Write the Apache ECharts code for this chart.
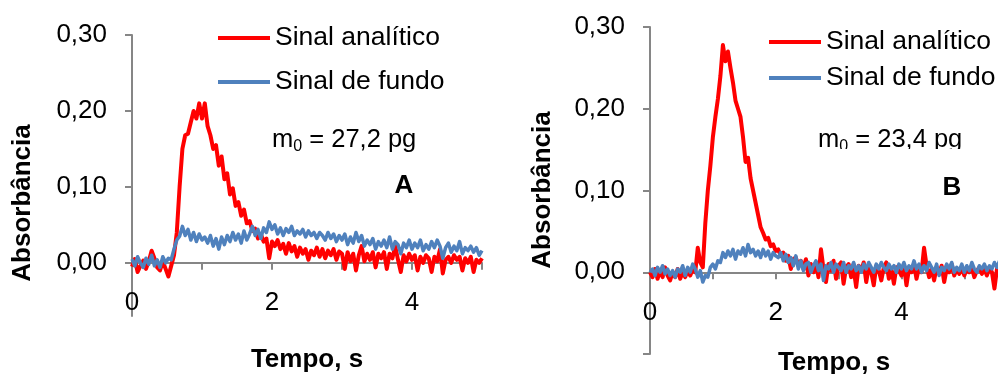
<!DOCTYPE html>
<html>
<head>
<meta charset="utf-8">
<script src="https://cdn.jsdelivr.net/npm/echarts@6/dist/echarts.min.js"></script>
<style>
html,body{margin:0;padding:0;background:#fff;}
#c{width:998px;height:374px;}
</style>
</head>
<body>
<div id="c"></div>
<script>
// ---- data (sampled every 0.04 s) ----
const sampleStep = 0.04;
const seriesNames = ['Sinal analítico', 'Sinal de fundo'];
const xTickLabels = [0, 2, 4];
const yTickValues = [0, 0.1, 0.2, 0.3];

const redA = [-0.005,0.005,-0.012,-0.004,0.003,-0.008,0.002,0.016,0.006,-0.006,
-0.010,0.002,-0.008,-0.018,-0.004,0.010,0.04,0.10,0.15,0.168,
0.17,0.185,0.20,0.19,0.21,0.19,0.21,0.18,0.168,0.15,
0.155,0.128,0.14,0.11,0.118,0.09,0.098,0.075,0.08,0.062,
0.07,0.052,0.055,0.042,0.045,0.032,0.038,0.028,0.032,0.006,
0.028,0.022,0.03,0.018,0.025,0.012,0.026,0.015,0.022,0.008,
0.02,0.012,0.018,0.004,0.016,0.01,0.02,0.008,0.018,0.006,
0.016,0.01,0.018,0.004,0.015,0.012,-0.008,0.014,0.002,0.012,
-0.01,0.01,0.022,0.002,0.012,0.004,0.014,-0.006,0.012,0.006,
0.014,-0.008,0.012,0.006,0.022,0.004,-0.012,0.01,0.002,0.012,
0.004,0.01,-0.01,0.008,0.0,0.01,0.006,-0.012,0.008,0.002,
0.018,-0.014,0.004,0.008,0.0,0.01,0.004,0.008,-0.01,0.006,
0.0,0.008,-0.012,0.004,0.0,0.006];

const blueA = [0.005,-0.004,0.008,0.0,-0.006,0.006,-0.002,0.01,-0.004,0.004,
-0.006,0.008,0.0,0.006,0.004,0.018,0.03,0.035,0.048,0.036,
0.044,0.03,0.04,0.028,0.038,0.03,0.034,0.026,0.036,0.022,
0.032,0.018,0.034,0.024,0.036,0.028,0.04,0.03,0.038,0.026,
0.042,0.03,0.038,0.048,0.036,0.044,0.032,0.046,0.04,0.054,
0.044,0.05,0.038,0.046,0.036,0.045,0.04,0.048,0.036,0.042,
0.038,0.044,0.034,0.042,0.036,0.04,0.032,0.04,0.036,0.03,
0.04,0.032,0.038,0.028,0.036,0.03,0.038,0.024,0.034,0.026,
0.04,0.028,0.036,0.022,0.03,0.024,0.032,0.018,0.028,0.022,
0.03,0.02,0.034,0.018,0.028,0.024,0.012,0.026,0.02,0.03,
0.018,0.026,0.02,0.03,0.016,0.024,0.018,0.028,0.02,0.03,
0.022,0.006,0.02,0.026,0.014,0.022,0.016,0.028,0.012,0.02,
0.016,0.022,0.014,0.02,0.01,0.016];

const redB = [0.0,-0.006,0.004,-0.008,0.002,-0.006,0.006,-0.004,-0.01,0.0,
-0.006,0.004,-0.008,0.0,-0.006,0.002,-0.004,0.004,0.0,0.03,
0.012,0.006,0.06,0.1,0.13,0.165,0.19,0.212,0.24,0.278,
0.258,0.27,0.25,0.232,0.21,0.2,0.19,0.165,0.135,0.14,
0.115,0.1,0.085,0.07,0.055,0.048,0.04,0.042,0.032,0.034,
0.026,0.028,0.02,0.024,0.014,0.02,0.004,0.016,0.018,0.008,
0.014,0.004,0.016,-0.004,0.01,0.0,0.012,-0.006,0.028,0.004,
-0.012,0.01,0.002,0.014,-0.008,0.008,0.012,-0.014,0.006,0.01,
-0.006,0.004,-0.018,0.008,0.002,0.012,-0.012,0.006,0.0,-0.016,
0.008,0.002,-0.01,0.006,0.012,-0.008,0.004,-0.014,0.006,0.002,
-0.004,0.008,-0.016,0.004,0.0,0.01,-0.008,0.006,0.0,0.03,
0.008,-0.006,0.004,-0.01,0.006,-0.002,0.008,-0.012,0.004,0.0,
0.01,-0.004,0.004,-0.002,0.006,-0.004,0.004,0.0,0.006,-0.006,
0.002,0.006,-0.002,0.004,-0.004,0.006,0.0,-0.02,0.004,0.008];

const blueB = [0.0,0.004,-0.004,0.006,0.0,0.008,-0.002,0.004,-0.004,0.002,
-0.006,0.004,0.0,0.008,-0.004,0.006,0.0,0.01,0.004,-0.006,
0.002,-0.012,-0.004,-0.006,0.006,0.01,0.004,0.014,0.012,0.024,
0.018,0.026,0.02,0.028,0.016,0.026,0.022,0.03,0.02,0.034,
0.024,0.028,0.02,0.026,0.018,0.028,0.02,0.026,0.016,0.024,
0.02,0.018,0.024,0.014,0.022,0.012,0.018,0.008,0.02,0.004,
0.014,0.002,0.01,0.012,0.0,0.008,0.014,0.002,0.01,-0.01,
0.008,0.004,0.012,0.0,0.01,0.006,0.002,0.012,0.0,0.008,
0.004,0.012,0.002,0.008,0.0,0.01,0.004,0.012,0.006,0.0,
0.01,0.004,0.012,0.006,0.002,0.01,0.004,0.008,0.0,0.01,
0.004,0.012,0.002,0.008,0.004,0.014,0.004,0.01,0.0,0.008,
0.002,0.012,0.006,0.0,0.01,-0.004,0.006,0.002,0.01,0.004,
0.012,0.0,0.006,0.002,0.01,0.0,0.008,0.002,0.012,0.004,
0.0,0.008,0.004,0.01,0.002,0.008,0.004,0.012,0.006,0.014];

// ---- helpers ----
function pairs(arr){ return arr.map((v,i)=>[+(i*sampleStep).toFixed(2), v]); }
const FONT = 'Arial, "Liberation Sans", sans-serif';
const AX = '#868686';
const RED = '#FF0000', BLUE = '#4F81BD';
const fmtY = v => v.toFixed(2).replace('.', ',');

// axis line + ticks on the zero line
function xLineAxis(gi, max){
  return {
    type:'value', gridIndex:gi, min:0, max:max, interval:1, position:'bottom',
    axisLine:{show:true, onZero:true, lineStyle:{color:AX, width:2}},
    axisTick:{show:true, length:7, lineStyle:{color:AX, width:2}, customValues:[0,1,2,3,4,5]},
    axisLabel:{show:false},
    splitLine:{show:false}
  };
}
// labels only, placed from the bottom of the plot
function xLabelAxis(gi, max, margin){
  return {
    type:'value', gridIndex:gi, min:0, max:max, interval:1, position:'bottom',
    axisLine:{show:false, onZero:false},
    axisTick:{show:false},
    axisLabel:{customValues:xTickLabels, inside:true, margin:margin, color:'#000', fontSize:26, fontFamily:FONT,
      verticalAlign:'bottom', lineHeight:26},
    splitLine:{show:false}
  };
}
function yAxisCfg(gi, min, tickVals){
  return {
    type:'value', gridIndex:gi, min:min, max:0.3,
    axisLine:{show:true, lineStyle:{color:AX, width:2}},
    axisTick:{show:true, length:7, lineStyle:{color:AX, width:2}, customValues:tickVals},
    axisLabel:{customValues:yTickValues, formatter:fmtY, margin:25, color:'#000', fontSize:26, fontFamily:FONT},
    splitLine:{show:false}
  };
}
function line(name, data, xi, yi, color, w){
  return {type:'line', name:name, xAxisIndex:xi, yAxisIndex:yi, data:pairs(data),
    showSymbol:false, symbol:'none', smooth:false, silent:true, animation:false,
    lineStyle:{color:color, width:w, join:'round'}, itemStyle:{color:color}};
}
function legendCfg(left, top, gap){
  return {data:seriesNames, orient:'vertical', left:left, top:top, itemGap:gap,
    icon:'rect', itemWidth:52, itemHeight:4, padding:0, selectedMode:false,
    textStyle:{fontSize:26.5, fontFamily:FONT, color:'#000', lineHeight:26}};
}
function txt(x, y, text, size, bold, rot){
  return {type:'text', x:x, y:y, rotation:rot||0, z:10,
    style:{text:text, fontSize:size, fontWeight:bold?'bold':'normal', fontFamily:FONT,
      fill:'#000', align:'center', verticalAlign:'middle'}};
}
function mText(x, y, rest){
  return {type:'text', x:x, y:y, z:10,
    style:{text:'{a|m}{b|0}{a| = '+rest+'}', fill:'#000', align:'left', verticalAlign:'middle',
      rich:{a:{fontSize:25.5, fontFamily:FONT, lineHeight:30, fill:'#000'},
            b:{fontSize:16, fontFamily:FONT, lineHeight:16, verticalAlign:'bottom', fill:'#000'}}}};
}

const chart = echarts.init(document.getElementById('c'), null, {renderer:'canvas'});
chart.setOption({
  animation:false,
  backgroundColor:'#fff',
  grid:[
    {left:132, top:35, width:350, height:281, containLabel:false, outerBoundsMode:'none'},
    {left:650, top:27, width:352, height:327, containLabel:false, outerBoundsMode:'none'}
  ],
  xAxis:[xLineAxis(0,5), xLabelAxis(0,5,0), xLineAxis(1,5.6), xLabelAxis(1,5.6,28)],
  yAxis:[yAxisCfg(0,-0.07,[0,0.1,0.2,0.3]), yAxisCfg(1,-0.1,[-0.1,0,0.1,0.2,0.3])],
  legend:[legendCfg(218,24.5,17), legendCfg(769,28.5,9)],
  series:[
    line(seriesNames[0], redA, 0, 0, RED, 4),
    line(seriesNames[1], blueA, 0, 0, BLUE, 3.5),
    line(seriesNames[0], redB, 2, 1, RED, 4),
    line(seriesNames[1], blueB, 2, 1, BLUE, 3.5)
  ],
  graphic:[
    mText(272, 140, '27,2 pg'),
    mText(818, 140, '23,4 pg'),
    {type:'rect', z:20, shape:{x:810, y:149, width:175, height:10}, style:{fill:'#fff'}},
    txt(404, 186, 'A', 26, true),
    txt(952, 188, 'B', 26, true),
    txt(23, 203, 'Absorbância', 26, true, Math.PI/2),
    txt(543, 190, 'Absorbância', 26, true, Math.PI/2),
    txt(307, 360, 'Tempo, s', 26, true),
    txt(834, 363, 'Tempo, s', 26, true)
  ]
});
</script>
</body>
</html>
